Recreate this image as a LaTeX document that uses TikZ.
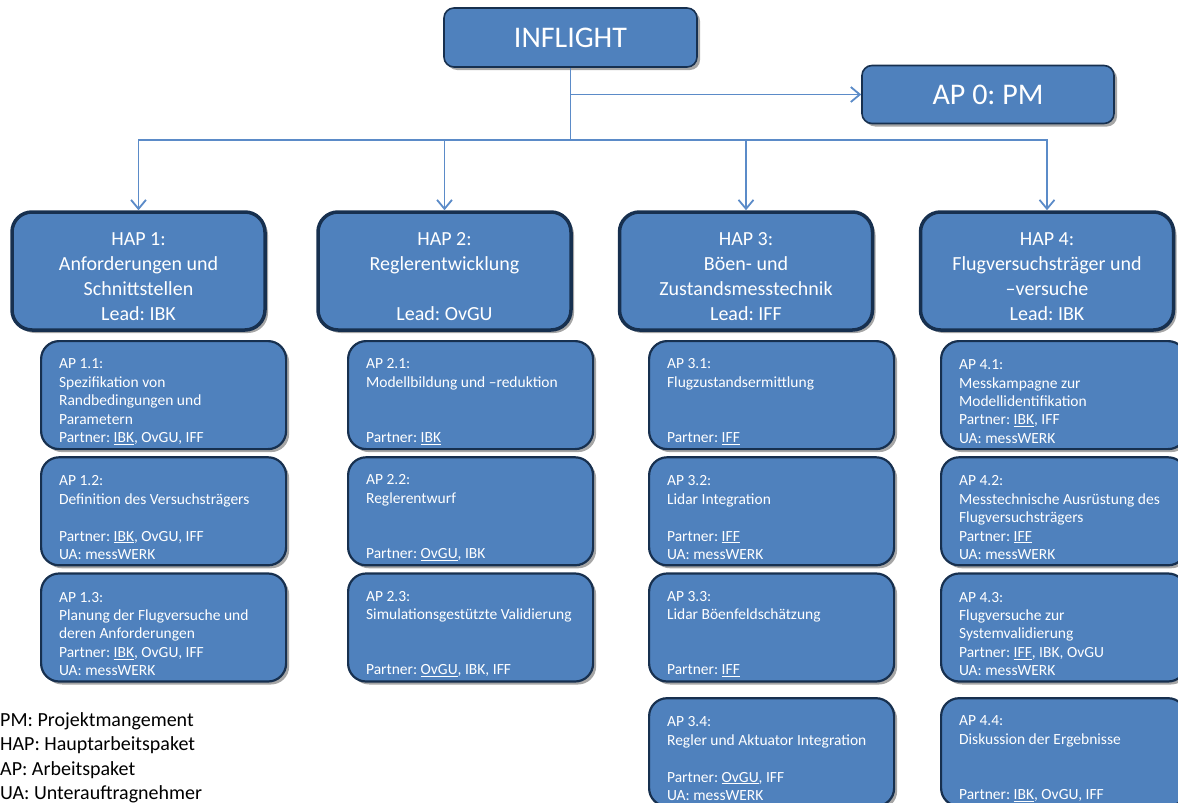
\documentclass[tikz,border=0pt]{standalone}
\usepackage{fontspec}
\setmainfont{Carlito}
\usepackage{xcolor}
\usepackage{tikz}
\usetikzlibrary{positioning,chains,arrows.meta,shadows}
\frenchspacing
\definecolor{boxblue}{HTML}{4F81BD}
\definecolor{boxline}{HTML}{17304F}
\definecolor{connblue}{HTML}{5B8BC8}
\tikzset{
>={Straight Barb[length=9pt,width=15pt]},
  topbox/.style={
    rectangle,
    rounded corners=10pt,
    draw=boxline, line width=1.6pt,
    fill=boxblue,
    text=white,
    minimum width=253pt,
    minimum height=59pt,
    font=\fontsize{30}{36}\selectfont,
    drop shadow={shadow xshift=3pt, shadow yshift=-3pt, opacity=.35, fill=black}},
  hapbox/.style={
    rectangle,
    rounded corners=20pt,
    draw=boxline, line width=3.5pt,
    fill=boxblue,
    text=white,
    align=flush center,
    text width=237pt,
    inner xsep=8pt, inner ysep=2pt,
    minimum height=118pt,
    font=\fontsize{20}{25}\selectfont,
    execute at begin node={\rule{0pt}{25pt}},
    drop shadow={shadow xshift=3pt, shadow yshift=-3pt, opacity=.35, fill=black}},
  apbox/.style={
    rectangle,
    rounded corners=18pt,
    draw=boxline, line width=2.2pt,
    fill=boxblue,
    text=white,
    align=flush left,
    text width=209pt,
    inner xsep=18pt, inner ysep=3pt,
    minimum height=108pt,
    font=\fontsize{15.5}{18.4}\selectfont,
    execute at begin node={\rule{0pt}{23pt}},
    drop shadow={shadow xshift=3pt, shadow yshift=-3pt, opacity=.35, fill=black},
    on chain},
  conn/.style={draw=connblue, line width=1.8pt},
  legendtext/.style={align=left, inner sep=0pt, anchor=north west,
    font=\fontsize{20}{24.5}\selectfont},
}
\begin{document}
\begin{tikzpicture}
  [x=1pt, y=-1pt, node distance=6pt,
  start chain=c1 going below, start chain=c2 going below,
  start chain=c3 going below, start chain=c4 going below]
  \useasboundingbox (0,0) rectangle (1178,803);

  \node[topbox] (inflight) at (570.5,37.5) {INFLIGHT};
  \node[topbox, minimum width=252pt, minimum height=58pt] (ap0) at (988,94.5) {AP 0: PM};

  \node[hapbox] (hap1) at (138.5,271) {HAP 1:\\Anforderungen und\\Schnittstellen\\Lead: IBK};
  \node[hapbox] (hap2) at (444.5,271) {HAP 2:\\Reglerentwicklung\\\mbox{}\\Lead: OvGU};
  \node[hapbox] (hap3) at (746,271) {HAP 3:\\Böen- und\\Zustandsmesstechnik\\Lead: IFF};
  \node[hapbox] (hap4) at (1047,271) {HAP 4:\\Flugversuchsträger und\\–versuche\\Lead: IBK};

  \node[apbox, on chain=c1, anchor=north west] (ap11) at (40,340)
    {AP 1.1:\\Spezifikation von\\Randbedingungen und\\Parametern\\Partner: \underline{IBK}, OvGU, IFF};
  \node[apbox, on chain=c1] (ap12)
    {AP 1.2:\\Definition des Versuchsträgers\\\mbox{}\\Partner: \underline{IBK}, OvGU, IFF\\UA: messWERK};
  \node[apbox, on chain=c1] (ap13)
    {AP 1.3:\\Planung der Flugversuche und\\deren Anforderungen\\Partner: \underline{IBK}, OvGU, IFF\\UA: messWERK};

  \node[apbox, on chain=c2, anchor=north west] (ap21) at (347,340)
    {AP 2.1:\\Modellbildung und –reduktion\\\mbox{}\\\mbox{}\\Partner: \underline{IBK}};
  \node[apbox, on chain=c2] (ap22)
    {AP 2.2:\\Reglerentwurf\\\mbox{}\\\mbox{}\\Partner: \underline{OvGU}, IBK};
  \node[apbox, on chain=c2] (ap23)
    {AP 2.3:\\Simulationsgestützte Validierung\\\mbox{}\\\mbox{}\\Partner: \underline{OvGU}, IBK, IFF};

  \node[apbox, on chain=c3, anchor=north west] (ap31) at (648,340)
    {AP 3.1:\\Flugzustandsermittlung\\\mbox{}\\\mbox{}\\Partner: \underline{IFF}};
  \node[apbox, on chain=c3] (ap32)
    {AP 3.2:\\Lidar Integration\\\mbox{}\\Partner: \underline{IFF}\\UA: messWERK};
  \node[apbox, on chain=c3] (ap33)
    {AP 3.3:\\Lidar Böenfeldschätzung\\\mbox{}\\\mbox{}\\Partner: \underline{IFF}};
  \node[apbox, on chain=c3, yshift=-8.5pt] (ap34)
    {AP 3.4:\\Regler und Aktuator Integration\\\mbox{}\\Partner: \underline{OvGU}, IFF\\UA: messWERK};

  \node[apbox, on chain=c4, anchor=north west] (ap41) at (940,340)
    {AP 4.1:\\Messkampagne zur\\Modellidentifikation\\Partner: \underline{IBK}, IFF\\UA: messWERK};
  \node[apbox, on chain=c4] (ap42)
    {AP 4.2:\\Messtechnische Ausrüstung des\\Flugversuchsträgers\\Partner: \underline{IFF}\\UA: messWERK};
  \node[apbox, on chain=c4] (ap43)
    {AP 4.3:\\Flugversuche zur\\Systemvalidierung\\Partner: \underline{IFF}, IBK, OvGU\\UA: messWERK};
  \node[apbox, on chain=c4, yshift=-8.5pt] (ap44)
    {AP 4.4:\\Diskussion der Ergebnisse\\\mbox{}\\\mbox{}\\Partner: \underline{IBK}, OvGU, IFF};

  \node[legendtext] (legend) at (0,712)
    {PM: Projektmangement\\HAP: Hauptarbeitspaket\\AP: Arbeitspaket\\UA: Unterauftragnehmer};

  \coordinate[below=72pt of inflight] (bus);
  \draw[conn] (inflight) -- (bus);
  \draw[conn,->] (inflight.south |- ap0) -- (ap0);
  \foreach \hap in {hap1,hap2,hap3,hap4}
    \draw[conn,->] (bus) -| (\hap);
\end{tikzpicture}
\end{document}
